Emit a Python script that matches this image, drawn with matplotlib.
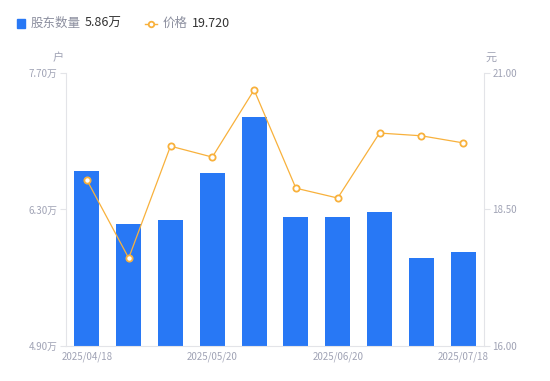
import numpy as np
import matplotlib
matplotlib.use("Agg")
from matplotlib import pyplot as plt
from matplotlib.lines import Line2D
from matplotlib.patches import Rectangle

plt.rcParams['font.family'] = ['Noto Sans CJK SC', 'DejaVu Sans']

dates = ['2025/04/18', '2025/04/30', '2025/05/10', '2025/05/20', '2025/05/31',
         '2025/06/10', '2025/06/20', '2025/06/30', '2025/07/10', '2025/07/18']
holders = [6.69, 6.15, 6.19, 6.67, 7.25, 6.22, 6.22, 6.27, 5.80, 5.86]  # 万户
price = [19.04, 17.61, 19.66, 19.46, 20.69, 18.89, 18.71, 19.90, 19.85, 19.72]

bar_color = '#2878F5'
line_color = '#F8B13C'
grey = '#A0A3B5'
spine = '#E3E4E8'

fig = plt.figure(figsize=(5.5, 3.81), dpi=100)
ax = fig.add_axes([0.12, 0.0919, 0.76, 0.7165])
x = np.arange(len(dates))
ax.bar(x, holders, width=0.6, color=bar_color, zorder=2)
ax.set_xlim(-0.5, len(dates) - 0.5)
ax.set_ylim(4.9, 7.7)
ax.set_yticks([4.9, 6.3, 7.7])
ax.set_yticklabels(['4.90万', '6.30万', '7.70万'])
ax.set_xticks(x[::3])
ax.set_xticklabels(dates[::3])

ax2 = ax.twinx()
ax2.plot(x, price, color=line_color, lw=0.9, marker='o', ms=4.5,
         mfc='white', mec=line_color, mew=1.3, zorder=3)
ax2.set_ylim(16, 21)
ax2.set_yticks([16, 18.5, 21])
ax2.set_yticklabels(['16.00', '18.50', '21.00'])

for a in (ax, ax2):
    for s in a.spines.values():
        s.set_visible(False)
    a.tick_params(colors=grey, labelsize=7, length=4, width=0.8)
    a.tick_params(axis='y', color=spine)
ax.spines['left'].set_visible(True)
ax.spines['left'].set_color(spine)
ax.spines['bottom'].set_visible(True)
ax.spines['bottom'].set_color(spine)
ax2.spines['right'].set_visible(True)
ax2.spines['right'].set_color(spine)
ax.tick_params(axis='x', length=0, pad=4)
ax.tick_params(axis='y', pad=2)
ax2.tick_params(axis='y', pad=2)

fig.text(0.115, 0.84, '户', color=grey, fontsize=8, ha='right')
fig.text(0.882, 0.84, '元', color=grey, fontsize=8, ha='left')

# legend header
fig.patches.append(Rectangle((0.03, 0.927), 0.016, 0.024, transform=fig.transFigure,
                             color=bar_color, figure=fig))
fig.text(0.055, 0.938, '股东数量', color='#8C8F9F', fontsize=9, va='center')
fig.text(0.153, 0.938, '5.86万', color='#333333', fontsize=9, va='center')
fig.lines.append(Line2D([0.263, 0.285], [0.938, 0.938], transform=fig.transFigure,
                        color=line_color, lw=1, figure=fig))
fig.lines.append(Line2D([0.274], [0.938], transform=fig.transFigure, color=line_color,
                        marker='o', ms=4, mfc='white', mec=line_color, mew=1.3, figure=fig))
fig.text(0.295, 0.938, '价格', color='#8C8F9F', fontsize=9, va='center')
fig.text(0.349, 0.938, '19.720', color='#333333', fontsize=9, va='center')

fig.savefig('out.png', dpi=100)
